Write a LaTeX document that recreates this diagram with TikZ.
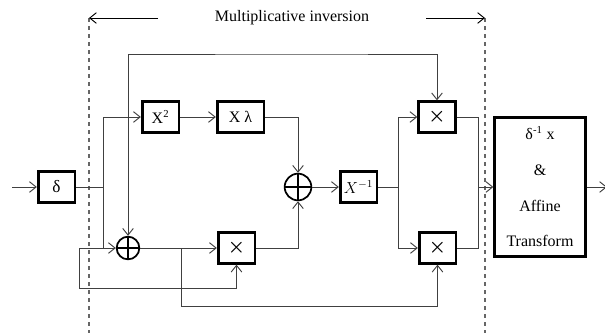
\documentclass[tikz,border=0pt]{standalone}
\usepackage{amsmath}
\usepackage{fontspec}
\setmainfont{Liberation Serif}
\usepackage{tikz}
\usetikzlibrary{arrows.meta}

\tikzstyle{block} = [rectangle, draw=black, line width=2pt, minimum width=27.5pt, minimum height=23pt, inner sep=0pt, text centered]
\tikzstyle{adder} = [circle, draw=black, line width=1.3pt, minimum size=17pt, inner sep=0pt, path picture={\draw[line width=1.3pt] (path picture bounding box.north) -- (path picture bounding box.south) (path picture bounding box.west) -- (path picture bounding box.east);}]
\tikzstyle{wire} = [draw=black!75, line width=0.7pt]
\tikzstyle{arrow} = [wire, -{Straight Barb[length=5pt,width=8pt]}]
\tikzstyle{twoway} = [wire, {Straight Barb[length=5pt,width=8pt]}-{Straight Barb[length=5pt,width=8pt]}]
\tikzstyle{boundary} = [draw=black!60, dashed, line width=0.8pt]
\newcommand{\mulsign}{{\fontsize{15}{15}\selectfont$\boldsymbol{\times}$}}

\begin{document}
\begin{tikzpicture}[x=0.75pt, y=-0.75pt, font=\fontsize{12}{14}\selectfont]
\useasboundingbox (0,0) rectangle (605,333);

% region of the inversion
\node (title) at (292,18) {Multiplicative inversion};
\coordinate (dl) at (89,18);
\coordinate (dr) at (485,18);
\coordinate (dlb) at (89,333);
\coordinate (drb) at (485,333);
\coordinate (arrL) at (158,18);
\coordinate (arrR) at (426,18);
\draw [boundary] (dl) -- (dlb);
\draw [boundary] (dr) -- (drb);
\draw [arrow, draw=black] (arrL) -- (dl);
\draw [arrow, draw=black] (arrR) -- (dr);

% blocks
\node (delta) [block] at (56.5,187) {\fontsize{13}{13}\selectfont δ};
\node (sq) [block] at (160.5,117) {X\textsuperscript{2}};
\node (lam) [block, minimum width=35pt] at (240.5,117) {X λ};
\node (add1) [adder] at (128,248) {};
\node (mulmid) [block] at (236.5,248) {\mulsign};
\node (add2) [adder, minimum size=20pt] at (298,187) {};
\node (inv) [block] at (358.5,187) {$X^{-1}$};
\node (multop) [block] at (437,117) {\mulsign};
\node (mulbot) [block] at (437.5,248) {\mulsign};
\node (aff) [block, minimum width=68pt, minimum height=104pt, align=center, font=\fontsize{12}{26.8}\selectfont] at (540,187) {δ\textsuperscript{-1} x\\\&\\Affine\\Transform};

% connectors
\coordinate (in) at (12,187);
\coordinate (split) at (103,187);
\coordinate (loopL) at (79,288);
\coordinate (topline) at (300,54);
\coordinate (tap) at (181,306);
\coordinate (fork) at (398,187);
\coordinate (merge) at (478,187);
\coordinate (out) at (607,187);

\draw [arrow] (in) -- (delta);
\draw [wire] (delta) -- (split);
\draw [arrow] (split) |- (sq);
\draw [arrow] (split) |- (add1);
\draw [arrow] (split |- add1) -| (loopL) -| (mulmid);
\draw [twoway] (add1) |- (topline) -| (multop);
\draw [arrow] (sq) -- (lam);
\draw [arrow] (lam) -| (add2);
\draw [arrow] (add1) -- (mulmid);
\draw [arrow] (add1 -| tap) -- (tap) -| (mulbot);
\draw [arrow] (mulmid) -| (add2);
\draw [arrow] (add2) -- (inv);
\draw [wire] (inv) -- (fork);
\draw [arrow] (fork) |- (multop);
\draw [arrow] (fork) |- (mulbot);
\draw [wire] (multop) -| (merge);
\draw [wire] (mulbot) -| (merge);
\draw [arrow] (merge) -- (aff);
\draw [arrow] (aff) -- (out);

\end{tikzpicture}
\end{document}
